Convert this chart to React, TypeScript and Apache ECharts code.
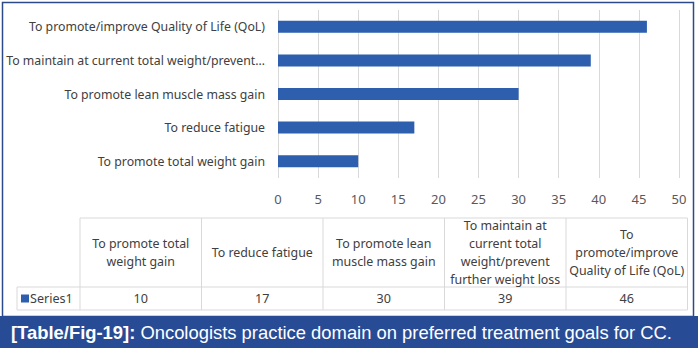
import React, { useEffect, useRef } from "react";
import * as echarts from "echarts";

const categories = [
  "To promote total weight gain",
  "To reduce fatigue",
  "To promote lean muscle mass gain",
  "To maintain at current total weight/prevent further weight loss",
  "To promote/improve Quality of Life (QoL)",
];
const values = [10, 17, 30, 39, 46];
const tableHeaders = [
  ["To promote total", "weight gain"],
  ["To reduce fatigue"],
  ["To promote lean", "muscle mass gain"],
  ["To maintain at", "current total", "weight/prevent", "further weight loss"],
  ["To", "promote/improve", "Quality of Life (QoL)"],
];
const seriesName = "Series1";
const xMin = 0;
const xMax = 50;
const xInterval = 5;
const labelMaxChars = 43;
const captionLabel = "[Table/Fig-19]:";
const captionText = " Oncologists practice domain on preferred treatment goals for CC.";

const BAR = "#2d5fae";
const FONT = "Noto Sans";

export default function App() {
  const ref = useRef<HTMLDivElement>(null);
  useEffect(() => {
    if (!ref.current) return;
    const chart = echarts.init(ref.current, undefined, { renderer: "svg" });

    const colX0 = 80;
    const colW = 121.5;
    const top = 218;
    const headH = 69;
    const rowH = 23;
    const legX = 17;
    const right = colX0 + colW * categories.length;
    const lineStyle = { stroke: "#d9d9d9", lineWidth: 1 };
    const g: any[] = [];

    g.push({ type: "line", shape: { x1: colX0, y1: top, x2: right, y2: top }, style: lineStyle });
    g.push({ type: "line", shape: { x1: legX, y1: top + headH, x2: right, y2: top + headH }, style: lineStyle });
    g.push({ type: "line", shape: { x1: legX, y1: top + headH + rowH, x2: right, y2: top + headH + rowH }, style: lineStyle });
    g.push({ type: "line", shape: { x1: legX, y1: top + headH, x2: legX, y2: top + headH + rowH }, style: lineStyle });
    for (let i = 0; i <= categories.length; i++) {
      const x = colX0 + i * colW;
      g.push({ type: "line", shape: { x1: x, y1: top, x2: x, y2: top + headH + rowH }, style: lineStyle });
    }
    tableHeaders.forEach((lines, i) => {
      g.push({
        type: "text",
        x: colX0 + colW * (i + 0.5),
        y: top + headH / 2,
        style: {
          text: lines.join("\n"),
          align: "center",
          verticalAlign: "middle",
          fontFamily: FONT,
          fontSize: 12.4,
          lineHeight: 18,
          fill: "#404040",
        },
      });
    });
    values.forEach((v, i) => {
      g.push({
        type: "text",
        x: colX0 + colW * (i + 0.5),
        y: top + headH + rowH / 2,
        style: {
          text: String(v),
          align: "center",
          verticalAlign: "middle",
          fontFamily: FONT,
          fontSize: 12.6,
          fill: "#404040",
        },
      });
    });
    g.push({ type: "rect", shape: { x: 21, y: top + headH + 7.5, width: 8, height: 8 }, style: { fill: BAR } });
    g.push({
      type: "text",
      x: 30,
      y: top + headH + rowH / 2,
      style: { text: seriesName, align: "left", verticalAlign: "middle", fontFamily: FONT, fontSize: 12.6, fill: "#404040" },
    });

    // outer border
    g.push({
      type: "rect",
      shape: { x: 2.5, y: 2.5, width: 691, height: 314 },
      style: { fill: "none", stroke: "#2c4a88", lineWidth: 1.5 },
    });
    // caption
    g.push({ type: "rect", shape: { x: 0, y: 316, width: 698, height: 32 }, style: { fill: "#284b96" } });
    g.push({
      type: "text",
      x: 11,
      y: 332,
      style: {
        text: "{b|" + captionLabel + "}{n|" + captionText + "}",
        verticalAlign: "middle",
        fill: "#ffffff",
        rich: {
          b: { fontFamily: "Liberation Sans", fontSize: 18.4, fontWeight: "bold", fill: "#ffffff" },
          n: { fontFamily: "Liberation Sans", fontSize: 18.4, fill: "#ffffff" },
        },
      },
    });

    chart.setOption({
      animation: false,
      backgroundColor: "#ffffff",
      grid: { left: 278, right: 19, top: 10, bottom: 176, containLabel: false, outerBoundsMode: "none" },
      xAxis: {
        type: "value",
        min: xMin,
        max: xMax,
        interval: xInterval,
        axisLine: { show: false },
        axisTick: { show: false },
        splitLine: { show: true, lineStyle: { color: "#d9d9d9", width: 1 } },
        axisLabel: { color: "#595959", fontFamily: FONT, fontSize: 13, margin: 14 },
      },
      yAxis: {
        type: "category",
        data: categories,
        axisLine: { show: false },
        axisTick: { show: false },
        axisLabel: {
          color: "#404040",
          fontFamily: FONT,
          fontSize: 12.3,
          margin: 13,
          formatter: (s: string) => (s.length > labelMaxChars + 2 ? s.slice(0, labelMaxChars) + "…" : s),
        },
      },
      series: [
        {
          name: seriesName,
          type: "bar",
          data: values,
          barWidth: 12,
          itemStyle: { color: BAR },
        },
      ],
      graphic: g,
    });
    return () => chart.dispose();
  }, []);
  return <div ref={ref} style={{ position: "fixed", left: 0, top: 0, width: 698, height: 354 }} />;
}
